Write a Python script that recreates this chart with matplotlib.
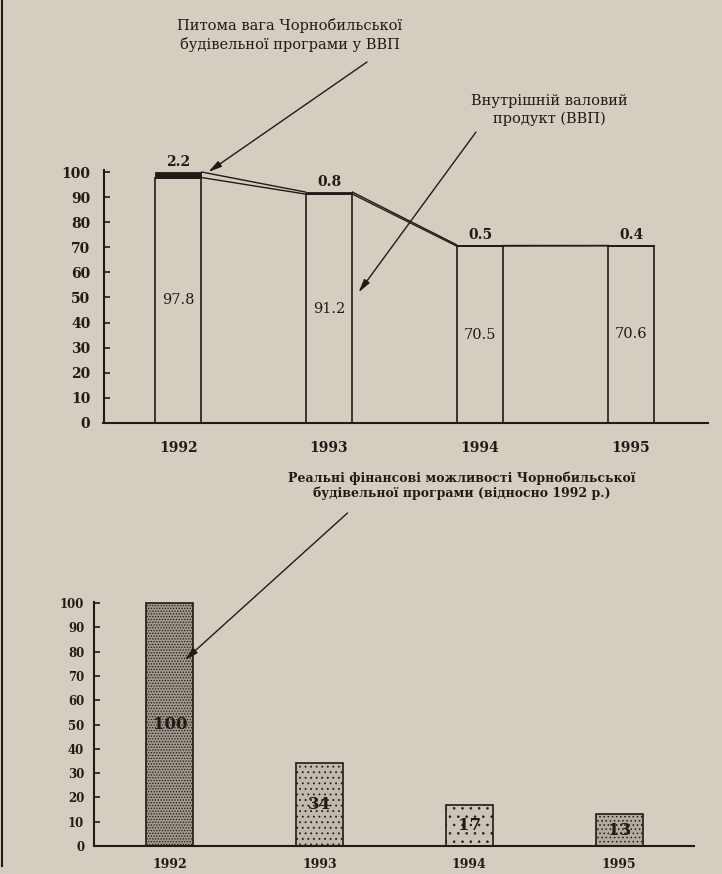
import numpy as np
import matplotlib
matplotlib.use('Agg')
import matplotlib.pyplot as plt
from matplotlib.lines import Line2D

plt.rcParams['font.family'] = ['DejaVu Serif']
plt.rcParams['hatch.linewidth'] = 0.6

years = ['1992', '1993', '1994', '1995']
gdp = [97.8, 91.2, 70.5, 70.6]          # ВВП
share = [2.2, 0.8, 0.5, 0.4]            # питома вага програми у ВВП
real = [100, 34, 17, 13]                # реальні фінансові можливості

paper = '#d5cec0'
ink = '#1f1b17'

W, H = 722, 874


def fx(px):
    return px / W


def fy(py):
    return 1 - py / H


fig = plt.figure(figsize=(W / 100, H / 100), dpi=100)
fig.patch.set_facecolor(paper)

x = np.arange(len(years))
total = [g + s for g, s in zip(gdp, share)]

# ---- верхня діаграма: ВВП і частка програми
w1 = 0.31
ax1 = fig.add_axes([fx(103.5), fy(423), (708 - 103.5) / W, 100.8 * 2.51 / H])
ax1.set_facecolor('none')
ax1.bar(x, gdp, w1, facecolor='none', edgecolor=ink, lw=1.2)
ax1.bar(x, share, w1, bottom=gdp, color=ink, edgecolor=ink, lw=0.6)
for i in range(len(x) - 1):
    ax1.plot([x[i] + w1 / 2, x[i + 1] - w1 / 2], [total[i], total[i + 1]], color=ink, lw=1.0)
    ax1.plot([x[i] + w1 / 2, x[i + 1] - w1 / 2], [gdp[i], gdp[i + 1]], color=ink, lw=1.0)
for xi, g, s, t in zip(x, gdp, share, total):
    ax1.text(xi, g / 2, f'{g}', ha='center', va='center', fontsize=10.5, color=ink)
    ax1.annotate(f'{s}', (xi, t), xytext=(0, 7), textcoords='offset points',
                 ha='center', va='center', fontsize=10, fontweight='bold', color=ink)

ax1.set_xlim(-0.494, 3.51)
ax1.set_ylim(0, 100.8)
ax1.set_yticks(range(0, 101, 10))
ax1.set_yticklabels([str(v) for v in range(0, 101, 10)], fontweight='bold', fontsize=10)
ax1.set_xticks(x, years, fontweight='bold', fontsize=10)
ax1.tick_params(axis='y', direction='in', length=4, width=1.2, pad=9.5, colors=ink)
ax1.tick_params(axis='x', length=0, pad=13, colors=ink)
for side in ['top', 'right']:
    ax1.spines[side].set_visible(False)
for side in ['left', 'bottom']:
    ax1.spines[side].set_linewidth(1.5)
    ax1.spines[side].set_color(ink)

fig.text(fx(290), fy(35), 'Питома вага Чорнобильської\nбудівельної програми у ВВП',
         ha='center', va='center', fontsize=10.5, linespacing=1.3, color=ink)
fig.text(fx(549), fy(110), 'Внутрішній валовий\nпродукт (ВВП)',
         ha='center', va='center', fontsize=10.5, linespacing=1.3, color=ink)

arrow = dict(arrowstyle='-|>,head_length=0.8,head_width=0.2', color=ink, lw=1.0,
             shrinkA=0, shrinkB=0)
ax1.annotate('', xy=(x[0] + w1 / 2 + 0.045, total[0]), xytext=(fx(367), fy(62)),
             textcoords='figure fraction', arrowprops=arrow)
ax1.annotate('', xy=(x[1] + w1 / 2 + 0.04, 52), xytext=(fx(476), fy(132)),
             textcoords='figure fraction', arrowprops=arrow)

# ---- нижня діаграма: реальні фінансові можливості
w2 = 0.314
ax2 = fig.add_axes([fx(94), fy(846), (694 - 94) / W, 100.5 * 2.43 / H])
ax2.set_facecolor('none')
faces = ['#9f978b', '#c1b9ac', '#ccc5b7', '#b3ab9e']
hatches = ['......', '...', '..', '....']
for xi, r, fc, h in zip(x, real, faces, hatches):
    ax2.bar(xi, r, w2, facecolor=fc, edgecolor=ink, lw=1.2, hatch=h)
    ax2.text(xi, r / 2, f'{r}', ha='center', va='center', fontsize=12,
             fontweight='bold', color=ink)

ax2.set_xlim(-0.506, 3.50)
ax2.set_ylim(0, 100.5)
ax2.set_yticks(range(0, 101, 10))
ax2.set_yticklabels([str(v) for v in range(0, 101, 10)], fontweight='bold', fontsize=8.5)
ax2.set_xticks(x, years, fontweight='bold', fontsize=9)
ax2.tick_params(axis='y', direction='in', length=4, width=1.2, pad=7, colors=ink)
ax2.tick_params(axis='x', length=0, pad=9, colors=ink)
for side in ['top', 'right']:
    ax2.spines[side].set_visible(False)
for side in ['left', 'bottom']:
    ax2.spines[side].set_linewidth(1.5)
    ax2.spines[side].set_color(ink)

fig.text(fx(462), fy(485.5),
         'Реальні фінансові можливості Чорнобильської\nбудівельної програми (відносно 1992 р.)',
         ha='center', va='center', fontsize=9, fontweight='bold', linespacing=1.15, color=ink)
ax2.annotate('', xy=(x[0] + 0.1, 76.5), xytext=(fx(347.5), fy(513)),
             textcoords='figure fraction', arrowprops=arrow)

# край сторінки зліва
fig.add_artist(Line2D([fx(2), fx(2)], [fy(0), fy(866)], transform=fig.transFigure,
                      color=ink, lw=1.5))

fig.savefig('out.png', dpi=100, facecolor=fig.get_facecolor())
